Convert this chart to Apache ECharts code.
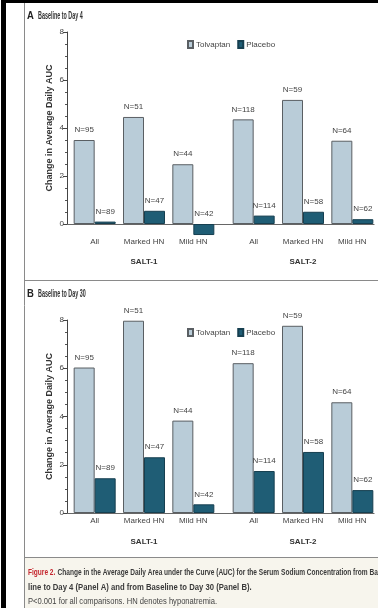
<!DOCTYPE html>
<html>
<head>
<meta charset="utf-8">
<script src="https://cdn.jsdelivr.net/npm/echarts@6/dist/echarts.min.js"></script>
<style>
  html, body { margin: 0; padding: 0; background: #fff; }
  #chart { width: 378px; height: 608px; }
</style>
</head>
<body>
<div id="chart"></div>
<script>
// Subgroups shown in each trial and the trial names
const subgroups = ['All', 'Marked HN', 'Mild HN'];
const studies = ['SALT-1', 'SALT-2'];
const seriesNames = ['Tolvaptan', 'Placebo'];

// Panel A: change from baseline to day 4
const day4Tolvaptan1 = [3.5, 4.46, 2.49];
const day4Placebo1 = [0.1, 0.55, -0.46];
const day4Tolvaptan2 = [4.36, 5.17, 3.47];
const day4Placebo2 = [0.35, 0.51, 0.2];

// Panel B: change from baseline to day 30
const day30Tolvaptan1 = [6.03, 7.97, 3.83];
const day30Placebo1 = [1.44, 2.31, 0.36];
const day30Tolvaptan2 = [6.21, 7.76, 4.59];
const day30Placebo2 = [1.74, 2.53, 0.95];

// Patients per group
const nTolvaptan1 = [95, 51, 44];
const nPlacebo1 = [89, 47, 42];
const nTolvaptan2 = [118, 59, 64];
const nPlacebo2 = [114, 58, 62];

// Y axis range and step
const yMin = 0, yMax = 8, yStep = 2;

const SANS = '"Liberation Sans", Arial, sans-serif';
const TOL_COLOR = '#b9ccd8';
const PLA_COLOR = '#1f5d75';

const chart = echarts.init(document.getElementById('chart'), null, { renderer: 'canvas' });

const grids = [], xAxes = [], yAxes = [], series = [], legends = [];

function addPanel(top, height, labelMargin, nameGap, data) {
  const g0 = grids.length;
  // one grid per trial, plus one spanning both for the zero line
  grids.push({ left: 70, top: top, width: 148, height: height });
  grids.push({ left: 229, top: top, width: 148, height: height });
  grids.push({ left: 67, top: top, width: 307, height: height });

  [0, 1].forEach(function (k) {
    xAxes.push({
      type: 'category', gridIndex: g0 + k, data: subgroups,
      axisLine: { show: false }, axisTick: { show: false },
      axisLabel: { interval: 0, hideOverlap: false, margin: labelMargin, fontFamily: SANS, fontSize: 8, color: '#444' },
      name: studies[k], nameLocation: 'middle', nameGap: nameGap,
      nameTextStyle: { fontFamily: SANS, fontWeight: 'bold', fontSize: 8, color: '#333' }
    });
    yAxes.push(k === 0 ? {
      type: 'value', gridIndex: g0, min: yMin, max: yMax, interval: yStep, offset: 3,
      axisLine: { show: true, lineStyle: { color: '#444', width: 1 } },
      axisTick: { show: true, length: 4, lineStyle: { color: '#444' } },
      minorTick: { show: true, splitNumber: 4, length: 2, lineStyle: { color: '#555' } },
      splitLine: { show: false },
      axisLabel: { margin: 3, fontFamily: SANS, fontSize: 8, color: '#444' },
      name: 'Change in Average Daily AUC', nameLocation: 'middle', nameGap: 13,
      nameTextStyle: { fontFamily: SANS, fontWeight: 'bold', fontSize: 9, color: '#333' }
    } : {
      type: 'value', gridIndex: g0 + 1, min: yMin, max: yMax, interval: yStep, show: false
    });
  });

  // zero line running under both trials
  xAxes.push({
    type: 'value', gridIndex: g0 + 2, min: 0, max: 1,
    axisLine: { show: true, onZero: false, lineStyle: { color: '#666', width: 1.2 } },
    axisTick: { show: false }, axisLabel: { show: false }, splitLine: { show: false }
  });
  yAxes.push({ type: 'value', gridIndex: g0 + 2, min: yMin, max: yMax, show: false });

  data.forEach(function (d, k) {
    [[d.tol, d.nTol, TOL_COLOR, '#5a5f63'], [d.pla, d.nPla, PLA_COLOR, '#163f50']].forEach(function (s, j) {
      const counts = s[1];
      series.push({
        type: 'bar', name: seriesNames[j],
        xAxisIndex: g0 + k, yAxisIndex: g0 + k,
        data: s[0], barWidth: 21, barGap: '0%', clip: false,
        itemStyle: { color: s[2], borderColor: s[3], borderWidth: 1 },
        label: {
          show: true, position: 'top', distance: 6,
          fontFamily: SANS, fontSize: 8, color: '#444',
          formatter: function (p) { return 'N=' + counts[p.dataIndex]; }
        },
        emphasis: { disabled: true }
      });
    });
  });

  legends.push({
    data: seriesNames, left: 182, top: top + 3, orient: 'horizontal',
    icon: 'rect', itemWidth: 5, itemHeight: 7, itemGap: 7,
    textStyle: { fontFamily: SANS, fontSize: 8, color: '#444', padding: [0, 0, 0, -2] },
    selectedMode: false
  });
}

addPanel(32, 192, 14, 34, [
  { tol: day4Tolvaptan1, pla: day4Placebo1, nTol: nTolvaptan1, nPla: nPlacebo1 },
  { tol: day4Tolvaptan2, pla: day4Placebo2, nTol: nTolvaptan2, nPla: nPlacebo2 }
]);
addPanel(320, 193, 4, 25, [
  { tol: day30Tolvaptan1, pla: day30Placebo1, nTol: nTolvaptan1, nPla: nPlacebo1 },
  { tol: day30Tolvaptan2, pla: day30Placebo2, nTol: nTolvaptan2, nPla: nPlacebo2 }
]);

// condensed text: drawn at full size, then squeezed horizontally from its left edge
function squeezed(x, y, sx, style) {
  return { type: 'text', x: x, y: y, scaleX: sx, silent: true,
           style: Object.assign({ verticalAlign: 'middle', align: 'left' }, style) };
}

function panelTitle(letter, text, y) {
  return [
    squeezed(27, y, 0.9, { text: letter, fontFamily: SANS, fontWeight: 'bold', fontSize: 10.5, fill: '#222' }),
    squeezed(38, y, 0.54, { text: text, fontFamily: SANS, fontWeight: 'bold', fontSize: 10, fill: '#333' })
  ];
}

const graphics = [
  // caption background
  { type: 'rect', shape: { x: 25, y: 558, width: 353, height: 50 }, style: { fill: '#f7f5ed' }, silent: true },
  // page frame and panel separators
  { type: 'rect', shape: { x: 1, y: 0, width: 5, height: 608 }, style: { fill: '#000' }, silent: true },
  { type: 'rect', shape: { x: 1, y: 0, width: 377, height: 3 }, style: { fill: '#000' }, silent: true },
  { type: 'line', shape: { x1: 24.5, y1: 3, x2: 24.5, y2: 608 }, style: { stroke: '#8a8a8a', lineWidth: 1 }, silent: true },
  { type: 'line', shape: { x1: 24, y1: 280.5, x2: 378, y2: 280.5 }, style: { stroke: '#8a8a8a', lineWidth: 1 }, silent: true },
  { type: 'line', shape: { x1: 24, y1: 557.5, x2: 378, y2: 557.5 }, style: { stroke: '#8a8a8a', lineWidth: 1 }, silent: true }
].concat(
  panelTitle('A', 'Baseline to Day 4', 16),
  panelTitle('B', 'Baseline to Day 30', 294),
  [
    // figure caption
    squeezed(28, 572, 0.69, {
      text: '{r|Figure 2.} {b|Change in the Average Daily Area under the Curve (AUC) for the Serum Sodium Concentration from Ba}',
      rich: {
        r: { fontFamily: SANS, fontWeight: 'bold', fontSize: 9.5, fill: '#c4262e' },
        b: { fontFamily: SANS, fontWeight: 'bold', fontSize: 9.5, fill: '#3a3a3a' }
      }
    }),
    squeezed(28, 587, 0.81, {
      text: 'line to Day 4 (Panel A) and from Baseline to Day 30 (Panel B).',
      fontFamily: SANS, fontWeight: 'bold', fontSize: 9.5, fill: '#3a3a3a'
    }),
    squeezed(28, 601, 0.8, {
      text: 'P<0.001 for all comparisons. HN denotes hyponatremia.',
      fontFamily: SANS, fontSize: 9.5, fill: '#444'
    })
  ]
);

chart.setOption({
  animation: false,
  backgroundColor: '#fff',
  grid: grids,
  xAxis: xAxes,
  yAxis: yAxes,
  legend: legends,
  series: series,
  graphic: graphics
});
</script>
</body>
</html>
